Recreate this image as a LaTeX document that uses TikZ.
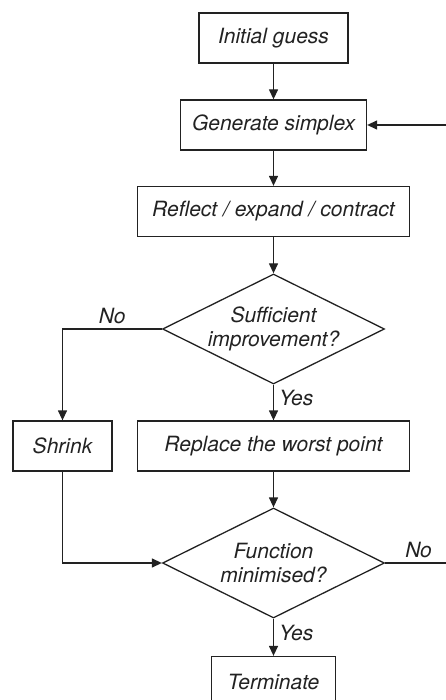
\documentclass[tikz,border=0pt]{standalone}
\usepackage{fontspec}
\setmainfont{TeX Gyre Heros}
\usetikzlibrary{shapes.geometric,arrows.meta}
\definecolor{traco}{RGB}{34,34,34}

\begin{document}
\begin{tikzpicture}[x=1pt, y=-1pt,
    caixa/.style={draw=traco, line width=1.3pt, minimum height=50pt, inner sep=0pt},
    decisao/.style={draw=traco, line width=1.3pt, shape=diamond, aspect=2, inner sep=0pt,
        minimum width=222pt, minimum height=110pt, align=center},
    seta/.style={draw=traco, line width=1.3pt, -{Triangle[length=10pt, width=9pt]}},
    rotulo/.style={inner sep=5pt},
    every node/.style={text=traco, font=\fontsize{21}{24}\selectfont\itshape}]
    \useasboundingbox (0,0) rectangle (445,700);

    % Coluna central
    \def\xm{273.5}
    \node[caixa, minimum width=149pt] (inicio) at (\xm,38) {Initial guess};
    \node[caixa, minimum width=186pt] (gerar) at (\xm,125) {Generate simplex};
    \node[caixa, minimum width=272pt] (refletir) at (\xm,211.5) {Reflect / expand / contract};
    \node[decisao] (melhora) at (\xm,329) {Sufficient\\improvement?};
    \node[caixa, minimum width=272pt] (substituir) at (\xm,446) {Replace the worst point};
    \node[decisao] (minimo) at (\xm,563) {Function\\minimised?};
    \node[caixa, minimum width=124pt] (terminar) at (\xm,681.5) {Terminate};

    % Ramo da esquerda
    \node[caixa, minimum width=99pt] (encolher) at (62.5,446) {Shrink};

    % Volta (fora da figura)
    \coordinate (volta) at (452,563);

    % Setas
    \draw[seta] (inicio) -- (gerar);
    \draw[seta] (gerar) -- (refletir);
    \draw[seta] (refletir) -- (melhora);
    \draw[seta] (melhora) -- node[rotulo, pos=0.38, right] {Yes} (substituir);
    \draw[seta] (melhora.west) -| node[rotulo, pos=0.25, above] {No} (encolher);
    \draw[seta] (encolher) |- (minimo.west);
    \draw[seta] (substituir) -- (minimo);
    \draw[seta] (minimo) -- node[rotulo, pos=0.38, right] {Yes} (terminar);
    \draw[seta] (minimo.east) -- node[rotulo, above] {No} (volta) |- (gerar.east);

\end{tikzpicture}
\end{document}
